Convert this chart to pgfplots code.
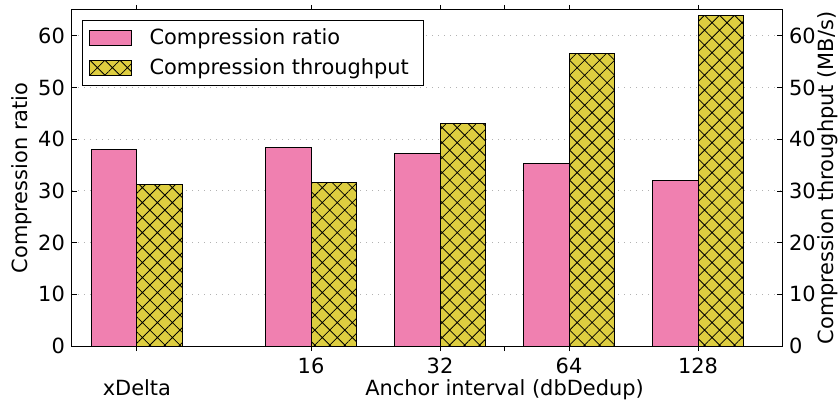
\documentclass[border=0pt]{standalone}
\usepackage{pgfplots}
\pgfplotsset{compat=1.18}
\usepackage{fontspec}
\setmainfont{DejaVu Sans}
\usetikzlibrary{patterns.meta}
\definecolor{pinkbar}{RGB}{240,128,176}
\definecolor{yellowbar}{RGB}{222,206,64}
\pgfplotsset{
  common/.style={
    scale only axis, width=710bp, height=336bp,
    at={(0,0)}, anchor=south west,
    xmin=-0.853, xmax=4.651, ymin=0, ymax=65,
    ytick={0,10,...,60},
    tick align=inside,
    major tick length=5bp,
    tick style={black, line width=0.8bp},
    axis line style={line width=1bp},
    clip=false,
    /pgf/number format/assume math mode=true,
    ybar, bar width=0.35,
  },
  hatchfill/.style={fill=yellowbar, draw=black, line width=1bp,
    postaction={pattern={Hatch[angle=45,distance=10.6bp,line width=0.8bp]}, pattern color=black}},
  pinkfill/.style={fill=pinkbar, draw=black, line width=1bp},
}
\begin{document}
\fontsize{21}{25}\selectfont
\begin{tikzpicture}
\path[use as bounding box] (-72bp,-59bp) rectangle (768bp,346bp);
\begin{axis}[common,
  ytick pos=left, xtick pos=both,
  ymajorgrids, grid style={dash pattern=on 1.2bp off 4.8bp, gray!60, line width=0.9bp},
  xtick={-0.35,1,2,2.5,3,4}, xticklabels={,16,32,,64,128},
  xticklabel style={anchor=base, yshift=-22bp},
  ylabel={Compression ratio},
  ylabel style={at={(axis description cs:-0.0704,0.5)}, anchor=center},
  legend cell align=left,
  legend image code/.code={\draw[#1] (0bp,-7.5bp) rectangle (42bp,7.5bp);},
  legend style={at={(axis description cs:0.0141,0.970)}, anchor=north west,
    draw=black, line width=1bp, inner xsep=6bp, inner ysep=6bp,
    row sep=7bp, column sep=9bp,
    nodes={inner xsep=9bp, inner ysep=2bp}},
]
\addplot[pinkfill, bar shift=-0.175] coordinates {(-0.35,38.1) (1,38.4) (2,37.2) (3,35.3) (4,32.0)};
\addlegendentry{Compression ratio}
\addlegendimage{hatchfill}
\addlegendentry{Compression throughput}
\node[anchor=base] at (axis cs:-0.35,0) [yshift=-49bp] {xDelta};
\node[anchor=base] at (axis cs:2.5,0) [yshift=-49bp] {Anchor interval (dbDedup)};
\end{axis}
\begin{axis}[common,
  axis x line=none, axis y line*=right,
  ylabel={Compression throughput (MB/s)},
  ylabel style={at={(axis description cs:1.0648,0.5)}, anchor=center, rotate=0},
]
\addplot[hatchfill, bar shift=0.175] coordinates {(-0.35,31.2) (1,31.6) (2,43.1) (3,56.6) (4,63.9)};
\end{axis}
\end{tikzpicture}
\end{document}
